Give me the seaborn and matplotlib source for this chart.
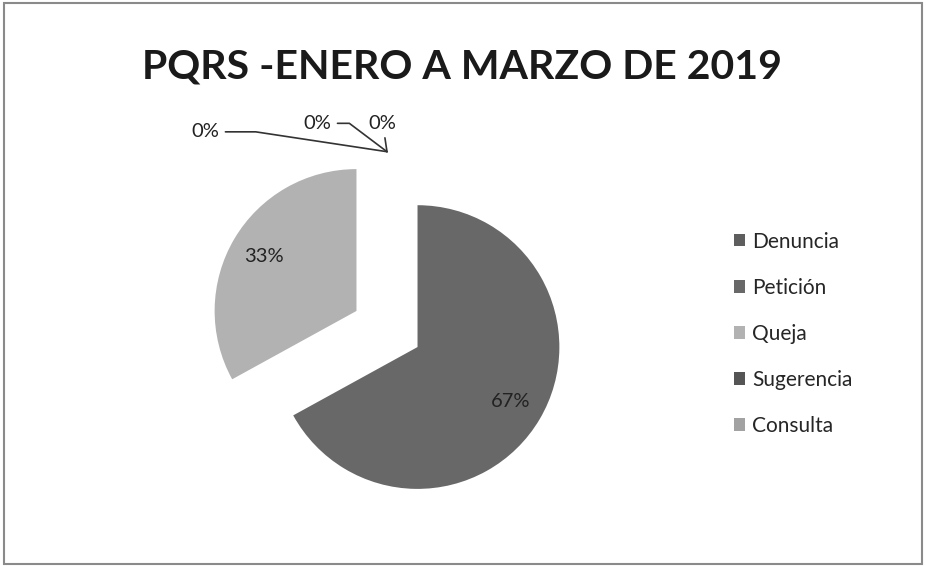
import matplotlib
matplotlib.use("Agg")
import matplotlib.pyplot as plt
import seaborn as sns
from matplotlib.patches import Rectangle

# === Data ===
categories = ["Denuncia", "Petición", "Queja", "Sugerencia", "Consulta"]
values = [0, 67, 33, 0, 0]
colors = ["#5e5e5e", "#686868", "#b2b2b2", "#555555", "#a2a2a2"]
title = "PQRS -ENERO A MARZO DE 2019"

sns.set_theme(style="white")
plt.rcParams["font.family"] = ["Lato", "DejaVu Sans"]

fig = plt.figure(figsize=(9.26, 5.66), dpi=100)
fig.patch.set_facecolor("white")
fig.patches.append(Rectangle((0.004, 0.004), 0.992, 0.99, transform=fig.transFigure,
                             fill=False, edgecolor="#8a8a8a", linewidth=1.5))

# pie axes: square, centered around the original pie center
W, H = 926, 566
cx, cy, size = 387, 329, 400
ax = fig.add_axes([(cx - size / 2) / W, (H - cy - size / 2) / H, size / W, size / H])

explode = 0.25
wedges, texts, autotexts = ax.pie(
    values, colors=colors, startangle=90, counterclock=False,
    explode=[explode] * len(values), radius=1.0,
    autopct=lambda p: f"{p:.0f}%" if p > 0 else "", pctdistance=0.76,
    textprops={"fontsize": 14.5, "color": "#222222"},
    wedgeprops={"linewidth": 0},
)
ax.set_xlim(-1.41, 1.41)
ax.set_ylim(-1.41, 1.41)
ax.set_aspect("equal")
ax.axis("off")

# labels for the zero slices, all at the top of the pie
tip = (0, 1 + explode)
zero_labels = [
    ((-1.28, 1.39), "angle,angleA=0,angleB=-8.6,rad=0"),
    ((-0.49, 1.45), "angle,angleA=0,angleB=-37,rad=0"),
    ((-0.03, 1.45), "arc3"),
]
for (pos, cs) in zero_labels:
    ax.annotate("0%", xy=tip, xytext=pos, fontsize=14.5, color="#222222",
                ha="center", va="center", annotation_clip=False,
                arrowprops=dict(arrowstyle="-", color="#333333", lw=1.2,
                                connectionstyle=cs, shrinkA=2, shrinkB=0))

fig.text(0.499, 0.882, title, ha="center", va="center",
         fontsize=29.5, fontweight="bold", color="#1a1a1a")

leg = fig.legend(wedges, categories, loc="upper left",
                 bbox_to_anchor=(0.772, 0.624), frameon=False,
                 fontsize=15, handlelength=0.55, handleheight=0.55,
                 handletextpad=0.35, labelspacing=1.25)

fig.savefig("out.png", dpi=100)
plt.close(fig)
